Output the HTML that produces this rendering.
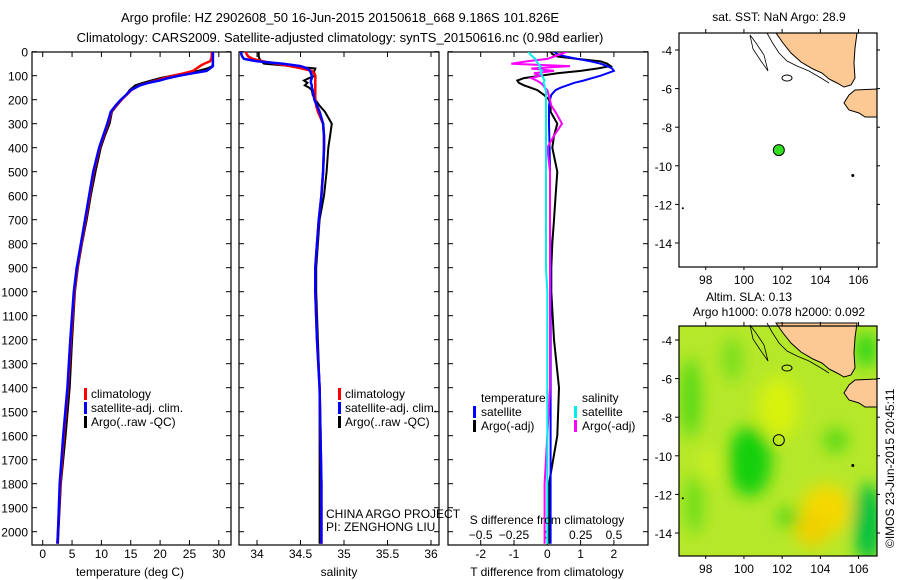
<!DOCTYPE html>
<html><head><meta charset="utf-8"><style>
body{margin:0;background:#fff;}
svg{display:block;font-family:"Liberation Sans",sans-serif;}
text{fill:#000;}
</style></head><body>
<svg id="fig" width="900" height="580" viewBox="0 0 900 580" xmlns="http://www.w3.org/2000/svg">
<defs>
<filter id="blur" x="-50%" y="-50%" width="200%" height="200%"><feGaussianBlur stdDeviation="8"/></filter>
<clipPath id="clipMap2"><rect x="679" y="326" width="198" height="230"/></clipPath>
<clipPath id="clipP1"><rect x="32" y="52" width="199" height="493"/></clipPath>
<clipPath id="clipP2"><rect x="239" y="52" width="200" height="493"/></clipPath>
<clipPath id="clipP3"><rect x="448" y="52" width="200" height="493"/></clipPath>
</defs>
<text x="340" y="22" font-size="13" text-anchor="middle">Argo profile: HZ 2902608_50 16-Jun-2015 20150618_668 9.186S 101.826E</text>
<text x="340" y="42" font-size="13" text-anchor="middle">Climatology: CARS2009. Satellite-adjusted climatology: synTS_20150616.nc (0.98d earlier)</text>
<g id="plots"></g>
<g id="maps"></g>
<text transform="translate(894,548) rotate(-90)" font-size="12">©IMOS 23-Jun-2015 20:45:11</text>
</svg>
<script>
// ---- data ----
const depths = [0,10,20,30,40,50,60,70,80,90,100,110,120,130,140,150,160,180,200,225,250,300,350,400,500,600,700,800,900,1000,1200,1400,1600,1800,2000,2050];
const tempClim = [28.8,28.8,28.8,28.7,28.5,27.5,26.8,26.2,25.6,24.0,22.2,20.7,19.4,17.8,16.5,15.8,15.1,14.3,13.4,12.5,11.7,11.1,10.4,9.7,8.7,8.0,7.3,6.6,5.9,5.4,4.8,4.3,3.6,3.0,2.6,2.5];
const tempSat = [29.0,29.0,29.0,29.0,29.0,29.0,29.0,28.5,27.9,25.5,23.3,21.4,19.9,18.0,16.6,15.8,15.0,14.2,13.3,12.4,11.6,11.0,10.3,9.6,8.6,7.9,7.2,6.5,5.8,5.3,4.7,4.2,3.5,2.9,2.6,2.5];
const tempArgo = [29.0,29.0,29.0,29.0,29.0,29.0,28.9,28.0,26.5,24.3,22.0,20.0,18.5,17.0,15.8,15.3,14.8,14.2,13.5,12.6,11.8,11.4,10.6,9.9,9.0,8.2,7.5,6.7,6.0,5.5,5.0,4.6,3.9,3.1,2.7,2.6];
const salClim = [33.87,33.88,33.90,33.95,34.07,34.22,34.38,34.52,34.63,34.66,34.67,34.67,34.67,34.67,34.67,34.67,34.67,34.67,34.67,34.68,34.70,34.76,34.77,34.77,34.76,34.74,34.71,34.69,34.67,34.67,34.69,34.72,34.73,34.74,34.74,34.74];
const salSat = [33.82,33.82,33.83,33.85,34.00,34.30,34.50,34.58,34.61,34.62,34.63,34.63,34.62,34.62,34.63,34.63,34.64,34.65,34.66,34.69,34.72,34.76,34.77,34.77,34.76,34.74,34.71,34.69,34.67,34.67,34.69,34.72,34.73,34.74,34.74,34.74];
const salArgo = [34.02,34.02,34.02,34.03,34.05,34.08,34.40,34.67,34.66,34.65,34.67,34.60,34.54,34.58,34.55,34.60,34.63,34.64,34.67,34.72,34.78,34.86,34.84,34.82,34.80,34.77,34.72,34.70,34.68,34.68,34.70,34.72,34.72,34.72,34.72,34.72];
const tDiffSat = [0.2,0.3,0.55,0.9,1.3,1.6,1.8,1.95,2.0,1.8,1.6,1.35,1.1,0.8,0.6,0.4,0.25,0.12,0.08,0.05,0.05,0.05,0.06,0.07,0.08,0.08,0.08,0.09,0.1,0.1,0.1,0.1,0.1,0.1,0.1,0.1];
const tDiffArgo = [0.1,0.15,0.3,0.9,1.6,1.8,1.9,1.5,1.0,0.3,-0.2,-0.7,-0.9,-0.85,-0.7,-0.5,-0.3,-0.1,0.05,0.1,0.1,0.3,0.2,0.15,0.3,0.25,0.2,0.15,0.12,0.12,0.2,0.35,0.3,0.05,0.05,0.05];
const sDiffSat = [-0.14,-0.13,-0.11,-0.09,-0.08,-0.07,-0.05,-0.06,-0.04,-0.05,-0.04,-0.03,-0.02,-0.03,-0.02,-0.02,-0.01,-0.01,-0.01,-0.01,-0.01,-0.01,-0.01,-0.01,-0.01,-0.01,-0.01,-0.01,-0.01,0,0,0,0,0,0,0];
const sDiffArgo = [0.15,0.1,0.05,0.0,-0.15,-0.27,0.17,-0.12,0.05,-0.1,-0.05,-0.12,-0.08,-0.05,-0.03,-0.02,0.0,0.01,0.02,0.03,0.06,0.11,0.05,0.0,0.02,0.02,0.02,0.02,0.02,0.02,0.02,0.02,0.0,-0.02,-0.02,-0.02];
const depthTicks = [0,100,200,300,400,500,600,700,800,900,1000,1100,1200,1300,1400,1500,1600,1700,1800,1900,2000];
const tempTicks = [0,5,10,15,20,25,30];
const salTicks = [34,34.5,35,35.5,36];
const tDiffTicks = [-2,-1,0,1,2];
const sDiffTicks = [-0.5,-0.25,0,0.25,0.5];
const lonTicks = [98,100,102,104,106];
const latTicks = [-4,-6,-8,-10,-12,-14];
const argoLon = 101.826, argoLat = -9.186;

const NS="http://www.w3.org/2000/svg";
function el(tag, attrs, parent){const e=document.createElementNS(NS,tag);for(const k in attrs)e.setAttribute(k,attrs[k]);parent.appendChild(e);return e;}
const yD = d => 51.7 + d*0.24;
const xT = t => 42.7 + t*5.87;
const xS = s => 257 + (s-34)*87;
const xTD = v => 547.3 + v*33.3;
const xSD = v => 547.3 + v*133.3;
const plots=document.getElementById('plots');

function frame(x,w,name){
  const r=el('rect',{x:x,y:52,width:w,height:493,fill:'none',stroke:'#000','stroke-width':1.2},plots);
  
  
  depthTicks.forEach(d=>{el('line',{x1:x,x2:x+5,y1:yD(d),y2:yD(d),stroke:'#000'},plots);el('line',{x1:x+w-5,x2:x+w,y1:yD(d),y2:yD(d),stroke:'#000'},plots);});
}
function xticks(arr,fx,y,lab){
  arr.forEach(v=>{const x=fx(v);
    el('line',{x1:x,x2:x,y1:52,y2:57,stroke:'#000'},plots);
    el('line',{x1:x,x2:x,y1:540,y2:545,stroke:'#000'},plots);
    if(lab){const t=el('text',{x:x,y:y,'font-size':12,'text-anchor':'middle'},plots);t.textContent=String(v);
      
      }
  });
}
function series(vals,fx,color,w,clip,name){
  const pts=vals.map((v,i)=>fx(v).toFixed(1)+','+yD(depths[i]).toFixed(1)).join(' ');
  const p=el('polyline',{points:pts,fill:'none',stroke:color,'stroke-width':w,'clip-path':'url(#'+clip+')'},plots);
  
  
}
function txt(x,y,s,name,anchor,size){const t=el('text',{x:x,y:y,'font-size':size||12,'text-anchor':anchor||'start'},plots);t.textContent=s;
  
  
  return t;}
function legBar(x,y,c){el('rect',{x:x,y:y-10,width:3,height:12,fill:c},plots);}

// panel 1
frame(32,199,'temperature-panel');
depthTicks.forEach(d=>{txt(28,yD(d)+5,String(d),'depth-tick-label','end');});
xticks(tempTicks,xT,558,true);
series(tempArgo,xT,'#000',2,'clipP1','temp-argo-line');
series(tempClim,xT,'#f00',2.5,'clipP1','temp-climatology-line');
series(tempSat,xT,'#00f',2.5,'clipP1','temp-satellite-line');
txt(130,576,'temperature (deg C)','temperature-axis-title','middle');
legBar(84,398,'#f00');txt(91,398,'climatology','legend-climatology');
legBar(84,412,'#00f');txt(91,412,'satellite-adj. clim.','legend-satellite-adj');
legBar(84,426,'#000');txt(91,426,'Argo(..raw -QC)','legend-argo');

// panel 2
frame(239,200,'salinity-panel');
xticks(salTicks,xS,558,true);
series(salArgo,xS,'#000',2,'clipP2','sal-argo-line');
series(salClim,xS,'#f00',2.5,'clipP2','sal-climatology-line');
series(salSat,xS,'#00f',2.5,'clipP2','sal-satellite-line');
txt(339,576,'salinity','salinity-axis-title','middle');
legBar(338,398,'#f00');txt(345,398,'climatology','legend-climatology-2');
legBar(338,412,'#00f');txt(345,412,'satellite-adj. clim.','legend-satellite-adj-2');
legBar(338,426,'#000');txt(345,426,'Argo(..raw -QC)','legend-argo-2');
txt(326,518,'CHINA ARGO PROJECT','project-label');
txt(326,531,'PI: ZENGHONG LIU','pi-label');

// panel 3
frame(448,200,'difference-panel');
xticks(tDiffTicks,xTD,558,true);
sDiffTicks.forEach(v=>{txt(xSD(v),539,String(v).replace('-','−'),'s-diff-tick-label','middle');});
series(tDiffArgo,xTD,'#000',2,'clipP3','tdiff-argo-line');
series(tDiffSat,xTD,'#00f',2,'clipP3','tdiff-satellite-line');
series(sDiffArgo,xSD,'#f0f',2,'clipP3','sdiff-argo-line');
series(sDiffSat,xSD,'#0ee',2,'clipP3','sdiff-satellite-line');
txt(547,576,'T difference from climatology','t-diff-axis-title','middle');
txt(547,524,'S difference from climatology','s-diff-axis-title','middle');
txt(481,402,'temperature','legend-temperature-header');
legBar(473,416,'#00f');txt(481,416,'satellite','legend-t-satellite');
legBar(473,430,'#000');txt(481,430,'Argo(-adj)','legend-t-argo');
txt(582,402,'salinity','legend-salinity-header');
legBar(574,416,'#0ee');txt(582,416,'satellite','legend-s-satellite');
legBar(574,430,'#f0f');txt(582,430,'Argo(-adj)','legend-s-argo');

// ---- maps ----
const maps=document.getElementById('maps');
function drawMap(y0,h,lat4y,name,heat){
  const x0=679,w=198;
  const lx=lon=>x0+(lon-96.6)*19.1;
  const ly=lat=>lat4y+(-4-lat)*19.3;
  const g=el('g',{},maps);
  
  
  if(heat){
    const hg=el('g',{'clip-path':'url(#clipMap2)'},g);
    el('rect',{x:x0,y:y0,width:w,height:h,fill:'#b6e82a'},hg);
    const bl=el('g',{filter:'url(#blur)'},hg);
    [[100.3,-10.3,22,35,'#18d010'],[97.2,-7,10,40,'#52d818'],[97.4,-12.5,8,30,'#62dc18'],[106.5,-13.5,14,40,'#06c040'],
     [104.3,-12.8,25,25,'#f5d800'],[103.6,-13.8,18,18,'#f0d000'],[101.8,-7.5,20,30,'#d8f210'],[104.8,-9.2,12,12,'#52d818'],
     [99.4,-5,10,22,'#76de1c'],[102.3,-13.2,10,10,'#3ad418'],[106.4,-4.5,10,18,'#20d418'],[98.2,-10.5,12,16,'#c8ee20']].forEach(b=>{
      el('ellipse',{cx:lx(b[0]),cy:ly(b[1]),rx:b[2],ry:b[3],fill:b[4]},bl);});
  }
  const land1=[[97,0],[178,0],[176,15],[175,30],[176,45],[172,52],[165,54],[158,50],[150,46],[143,40],[134,36],[122,29],[112,20],[104,10]];
  const land2=[[176,57],[198,56],[198,84],[186,84],[180,80],[170,77],[165,70],[170,62]];
  const oy=lat4y-17;
  [land1,land2].forEach(L=>{el('polygon',{points:L.map(p=>(x0+p[0])+','+(oy+p[1])).join(' '),fill:'#fcc994',stroke:'#000','stroke-width':1},g);});
  el('polyline',{points:[[88,0],[93,9],[100,20],[108,28],[118,33],[130,38],[142,45],[150,50]].map(p=>(x0+p[0])+','+(oy+p[1])).join(' '),fill:'none',stroke:'#000','stroke-width':0.8},g);
  el('path',{d:`M${x0+71},${oy+2} l6,8 l8,12 l4,16 l-7,-10 l-8,-12z`,fill:'none',stroke:'#000','stroke-width':0.8},g);
  el('ellipse',{cx:x0+108,cy:oy+45,rx:5,ry:3,fill:'none',stroke:'#000','stroke-width':1},g);
  el('circle',{cx:lx(105.7),cy:ly(-10.5),r:1.5,fill:'#000'},g);
  el('circle',{cx:lx(96.8),cy:ly(-12.2),r:1,fill:'#000'},g);
  const pt=el('circle',{cx:lx(argoLon),cy:ly(argoLat),r:5.5,fill:heat?'none':'#33dd22',stroke:'#000','stroke-width':1},g);
  
  
  el('rect',{x:x0,y:y0,width:w,height:h,fill:'none',stroke:'#000','stroke-width':1.2},g);
  lonTicks.forEach(v=>{const x=lx(v);
    el('line',{x1:x,x2:x,y1:y0,y2:y0-4,stroke:'#000'},g);el('line',{x1:x,x2:x,y1:y0+h,y2:y0+h+3,stroke:'#000'},g);
    const t=el('text',{x:x,y:y0+h+17,'font-size':12,'text-anchor':'middle'},g);t.textContent=String(v);
    
    });
  latTicks.forEach(v=>{const y=ly(v);
    el('line',{x1:x0-4,x2:x0,y1:y,y2:y,stroke:'#000'},g);el('line',{x1:x0+w,x2:x0+w+3,y1:y,y2:y,stroke:'#000'},g);
    const t=el('text',{x:x0-7,y:y+5,'font-size':12,'text-anchor':'end'},g);t.textContent=String(v);
    
    });
}
drawMap(33,234,50,'sst-map',false);
drawMap(326,230,340,'sla-map',true);
function mtxt(x,y,s,name){const t=el('text',{x:x,y:y,'font-size':12,'text-anchor':'middle'},maps);t.textContent=s;
  
  }
mtxt(779,21,'sat. SST: NaN Argo: 28.9','sst-map-title');
mtxt(749,301,'Altim. SLA: 0.13','sla-map-title');
mtxt(779,316,'Argo h1000: 0.078 h2000: 0.092','sla-map-subtitle');
</script>
</body></html>
